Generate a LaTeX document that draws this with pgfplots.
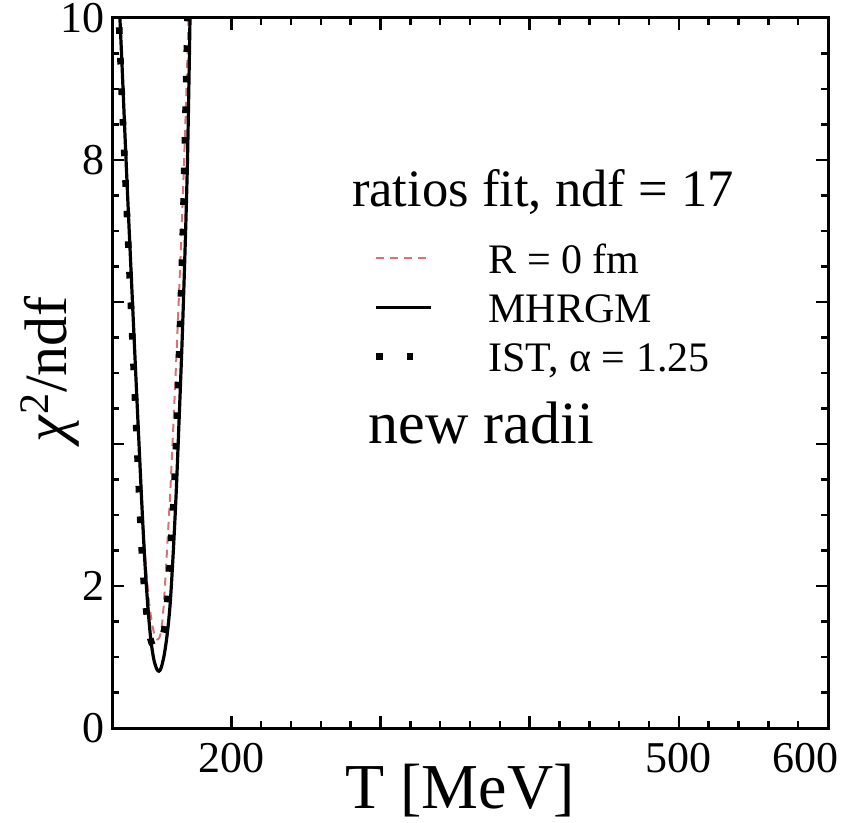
\documentclass[border=0pt]{standalone}
\usepackage{fontspec}
\setmainfont{Liberation Serif}
\usepackage{pgfplots}
\pgfplotsset{compat=1.18}
\definecolor{rzero}{RGB}{215,115,115}
\begin{document}
\begin{tikzpicture}
\begin{axis}[
 scale only axis, width=358pt, height=355pt,
 xmin=120, xmax=600, ymin=0, ymax=10,
 axis line style={line width=1.5pt},
 every tick/.style={black, line width=1.2pt},
 major tick length=6pt, minor tick length=3.5pt,
 tick align=inside,
 xtick={200,300,400,500,600}, xticklabels={200,,,500,{600\hspace*{23pt}}},
 minor x tick num=4,
 ytick={0,2,4,6,8,10}, yticklabels={0,2,,,8,10},
 minor y tick num=3,
 tick label style={font=\fontsize{22}{26}\selectfont},
 xticklabel style={yshift=-4pt},
 xlabel={T [MeV]}, ylabel={\textit{χ}\textsuperscript{2}/ndf},
 xlabel style={font=\fontsize{32}{38}\selectfont, at={(axis description cs:0.486,0)}, anchor=base, yshift=-40pt},
 ylabel style={font=\fontsize{30}{36}\selectfont, at={(axis description cs:-0.0866,0.505)}, anchor=center},
 legend style={draw=none, fill=none, at={(0.3645,0.6825)}, anchor=north west, inner sep=0pt, outer sep=0pt,
   font=\fontsize{21}{25}\selectfont, row sep=4.5pt, column sep=27pt,
   nodes={inner sep=0pt, text height=15pt, text depth=5pt}},
 legend cell align=left,
 legend image code/.code={\draw[#1] (0pt,2.5pt) -- (27.5pt,2.5pt);},
]
\addplot[rzero, line width=1pt, dash pattern=on 4pt off 3pt, smooth] coordinates {
(124.8,10.3)(125.5,10.0)(128,8.75)(131,7.3)(134,5.9)(137,4.5)(140,3.25)(142.5,2.35)(145,1.75)(147.5,1.4)(149.5,1.27)(151,1.25)(152.5,1.32)(154,1.55)(155.5,2.0)(157,2.55)(159,3.3)(161,4.2)(163,5.15)(165,6.15)(167,7.2)(169,8.4)(170.5,9.4)(171.5,10.1)(172,10.5)};
\addlegendentry{R = 0 fm}
\addplot[black, line width=1.6pt, smooth] coordinates {
(124.6,10.35)(125.3,10.0)(127,9.2)(129,8.2)(131,7.25)(133.5,6.1)(136,4.95)(138,4.05)(140,3.15)(142,2.35)(144,1.72)(146,1.25)(148,0.97)(150,0.83)(151.5,0.80)(153,0.85)(155,1.03)(157,1.32)(159,1.75)(161,2.45)(163,3.3)(165,4.35)(167,5.45)(169,6.75)(170.5,7.9)(171.5,9.0)(172.3,10.0)(172.7,10.5)};
\addlegendentry{MHRGM}
\addplot[black, line width=3.3pt, dash pattern=on 3.3pt off 12pt, smooth] coordinates {
(124.0,10.3)(124.6,10.0)(127,8.7)(130,7.25)(133,5.8)(136,4.35)(138.7,3.05)(140.5,2.3)(142.7,1.7)(145.3,1.3)(147.5,1.15)(149.5,1.12)(151.5,1.15)(153.5,1.25)(155.5,1.45)(157.5,1.9)(159.5,2.6)(161.5,3.3)(163.5,4.3)(165.5,5.6)(167.5,7.0)(169,8.4)(170.3,9.7)(171,10.4)};
\addlegendentry{IST, α = 1.25}
\node[anchor=base west, inner sep=0pt, font=\fontsize{26.3}{30}\selectfont] at (axis cs:280.7,7.34) {ratios fit, ndf = 17};
\node[anchor=base west, inner sep=0pt, font=\fontsize{30}{36}\selectfont] at (axis cs:292,4.0) {new radii};
\end{axis}
\pgfresetboundingbox
\path[use as bounding box] ([shift={(-56pt,-47pt)}]current axis.south west) rectangle ([shift={(7pt,9pt)}]current axis.north east);
\end{tikzpicture}
\end{document}
